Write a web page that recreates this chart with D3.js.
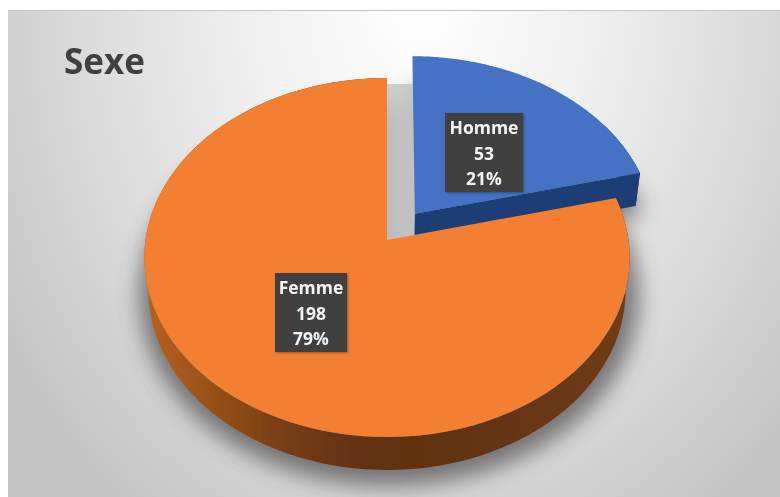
<!DOCTYPE html>
<html><head><meta charset="utf-8">
<script src="https://cdn.jsdelivr.net/npm/d3@7"></script>
<style>html,body{margin:0;padding:0;background:#fff;overflow:hidden}svg{display:block}</style>
</head><body><div id="c"></div>
<script>
const title = "Sexe";
const categories = ["Homme", "Femme"];
const counts = [53, 198];
const percents = ["21%", "79%"];
const topColors = ["#4472c4", "#f38030"];

const W = 780, H = 497;
const svg = d3.select("#c").append("svg").attr("width", W).attr("height", H);
const defs = svg.append("defs");

const bg = defs.append("radialGradient").attr("id", "bg").attr("gradientUnits", "userSpaceOnUse")
  .attr("cx", 0).attr("cy", 0).attr("r", 1)
  .attr("gradientTransform", "translate(420,5) scale(500,640)");
[[0, "#ffffff"], [0.35, "#efefef"], [0.7, "#d9d9d9"], [1, "#c3c3c3"]]
  .forEach(s => bg.append("stop").attr("offset", s[0]).attr("stop-color", s[1]));
const side = defs.append("linearGradient").attr("id", "orSide").attr("gradientUnits", "userSpaceOnUse")
  .attr("x1", 148).attr("y1", 0).attr("x2", 628).attr("y2", 0);
[[0, "#b5611f"], [0.1, "#a0541a"], [0.25, "#7d4216"], [0.4, "#653412"], [0.55, "#5f3111"], [1, "#6e3c13"]]
  .forEach(s => side.append("stop").attr("offset", s[0]).attr("stop-color", s[1]));
defs.append("filter").attr("id", "blur").attr("filterUnits", "userSpaceOnUse")
  .attr("x", 0).attr("y", 0).attr("width", W).attr("height", H)
  .append("feGaussianBlur").attr("stdDeviation", 11);
const ds = defs.append("filter").attr("id", "boxShadow").attr("x", "-10%").attr("y", "-10%").attr("width", "125%").attr("height", "125%");
ds.append("feDropShadow").attr("dx", 1).attr("dy", 1).attr("stdDeviation", 1).attr("flood-color", "#000").attr("flood-opacity", 0.35);
defs.append("filter").attr("id", "soft").append("feGaussianBlur").attr("stdDeviation", 0.4);

svg.append("rect").attr("x", 8).attr("y", 10).attr("width", W - 8).attr("height", H - 10).attr("fill", "url(#bg)");
svg.append("line").attr("x1", 8).attr("x2", W).attr("y1", 10.5).attr("y2", 10.5).attr("stroke", "#c4c4c4");

// Perspective mapping of the pie disc, from d3.pie angles to the page
const cx = 387, cy = 240, A = 177.8, B = 241.5, k = 0.0975, depth = 33, shrink = 0.983;
const sx = d3.scaleLinear().domain([0, 1]).range([cx, cx + B]);
const sy = d3.scaleLinear().domain([0, 1]).range([cy, cy + A]);
function proj(u, v, bottom) {
  const s = 1 / (1 - k * v);
  let x = sx(u * s), y = sy(v * s);
  if (bottom) { x = cx + (x - cx) * shrink; y += depth; }
  return [x, y];
}
const pie = d3.pie().sort(null).value(d => d)(counts);
const explode = [0.19, 0];
const line = d3.line();
function rim(p, i, bottom) {
  const mid = (p.startAngle + p.endAngle) / 2, e = explode[i];
  const ox = e * Math.sin(mid), oy = -e * Math.cos(mid);
  return d3.range(0, 121).map(j => {
    const a = p.startAngle + (p.endAngle - p.startAngle) * j / 120;
    return proj(ox + Math.sin(a), oy - Math.cos(a), bottom);
  });
}
function apex(p, i, bottom) {
  const mid = (p.startAngle + p.endAngle) / 2, e = explode[i];
  return proj(e * Math.sin(mid), -e * Math.cos(mid), bottom);
}
const wedge = (p, i, bottom) => line([apex(p, i, bottom), ...rim(p, i, bottom)]) + "Z";

// soft shadows on the background
const shadow = svg.append("g").attr("filter", "url(#blur)").attr("opacity", 0.7);
pie.forEach((p, i) => shadow.append("path")
  .attr("d", wedge(p, i, true)).attr("transform", "translate(2,5)")
  .attr("fill", "#4a4a4a").attr("stroke", "#4a4a4a")
  .attr("stroke-width", i ? 22 : 8).attr("stroke-linejoin", "round"));
svg.append("path").attr("d", line([[387, 84], [415, 84], [415, 245], [387, 245]]) + "Z")
  .attr("fill", "#c6c6c6").attr("opacity", 0.85).attr("filter", "url(#soft)");

const marks = svg.append("g").attr("filter", "url(#soft)");
// Homme
const ph = pie[0], rh = rim(ph, 0, false), rhb = rim(ph, 0, true);
marks.append("path").attr("fill", "#1f3e74")
  .attr("d", line([apex(ph, 0, false), rh[120], rhb[120], apex(ph, 0, true)]) + "Z");
marks.append("path").attr("fill", "#1f3e74")
  .attr("d", line([...rh.slice(90), ...rhb.slice(90).reverse()]) + "Z");
marks.append("path").attr("d", wedge(ph, 0, false)).attr("fill", topColors[0]);

// Femme
const pf = pie[1], rf = rim(pf, 1, false), rfb = rim(pf, 1, true);
marks.append("path").attr("fill", "url(#orSide)")
  .attr("d", line([...rf, ...rfb.slice().reverse()]) + "Z");
marks.append("path").attr("d", wedge(pf, 1, false)).attr("fill", topColors[1]);

// Data labels
const labelBoxes = [[445, 113, 78, 79], [275, 273, 72, 79]];
categories.forEach((c, i) => {
  const b = labelBoxes[i], mx = b[0] + b[2] / 2;
  svg.append("rect").attr("x", b[0]).attr("y", b[1]).attr("width", b[2]).attr("height", b[3])
    .attr("fill", "#404040").attr("filter", "url(#boxShadow)");
  [c, String(counts[i]), percents[i]].forEach((t, j) => {
    svg.append("text").attr("x", mx).attr("y", b[1] + 21 + j * 25.5)
      .attr("text-anchor", "middle").attr("fill", "#f4f4f4")
      .attr("font-family", "'Open Sans','Noto Sans',sans-serif").attr("font-weight", 700)
      .attr("font-size", 17.5).attr("filter", "url(#soft)").text(t);
  });
});

svg.append("text").attr("x", 64).attr("y", 74).attr("fill", "#404040")
  .attr("font-family", "'Open Sans','Noto Sans',sans-serif").attr("font-weight", 700)
  .attr("font-size", 35).attr("filter", "url(#soft)").text(title);
</script></body></html>
